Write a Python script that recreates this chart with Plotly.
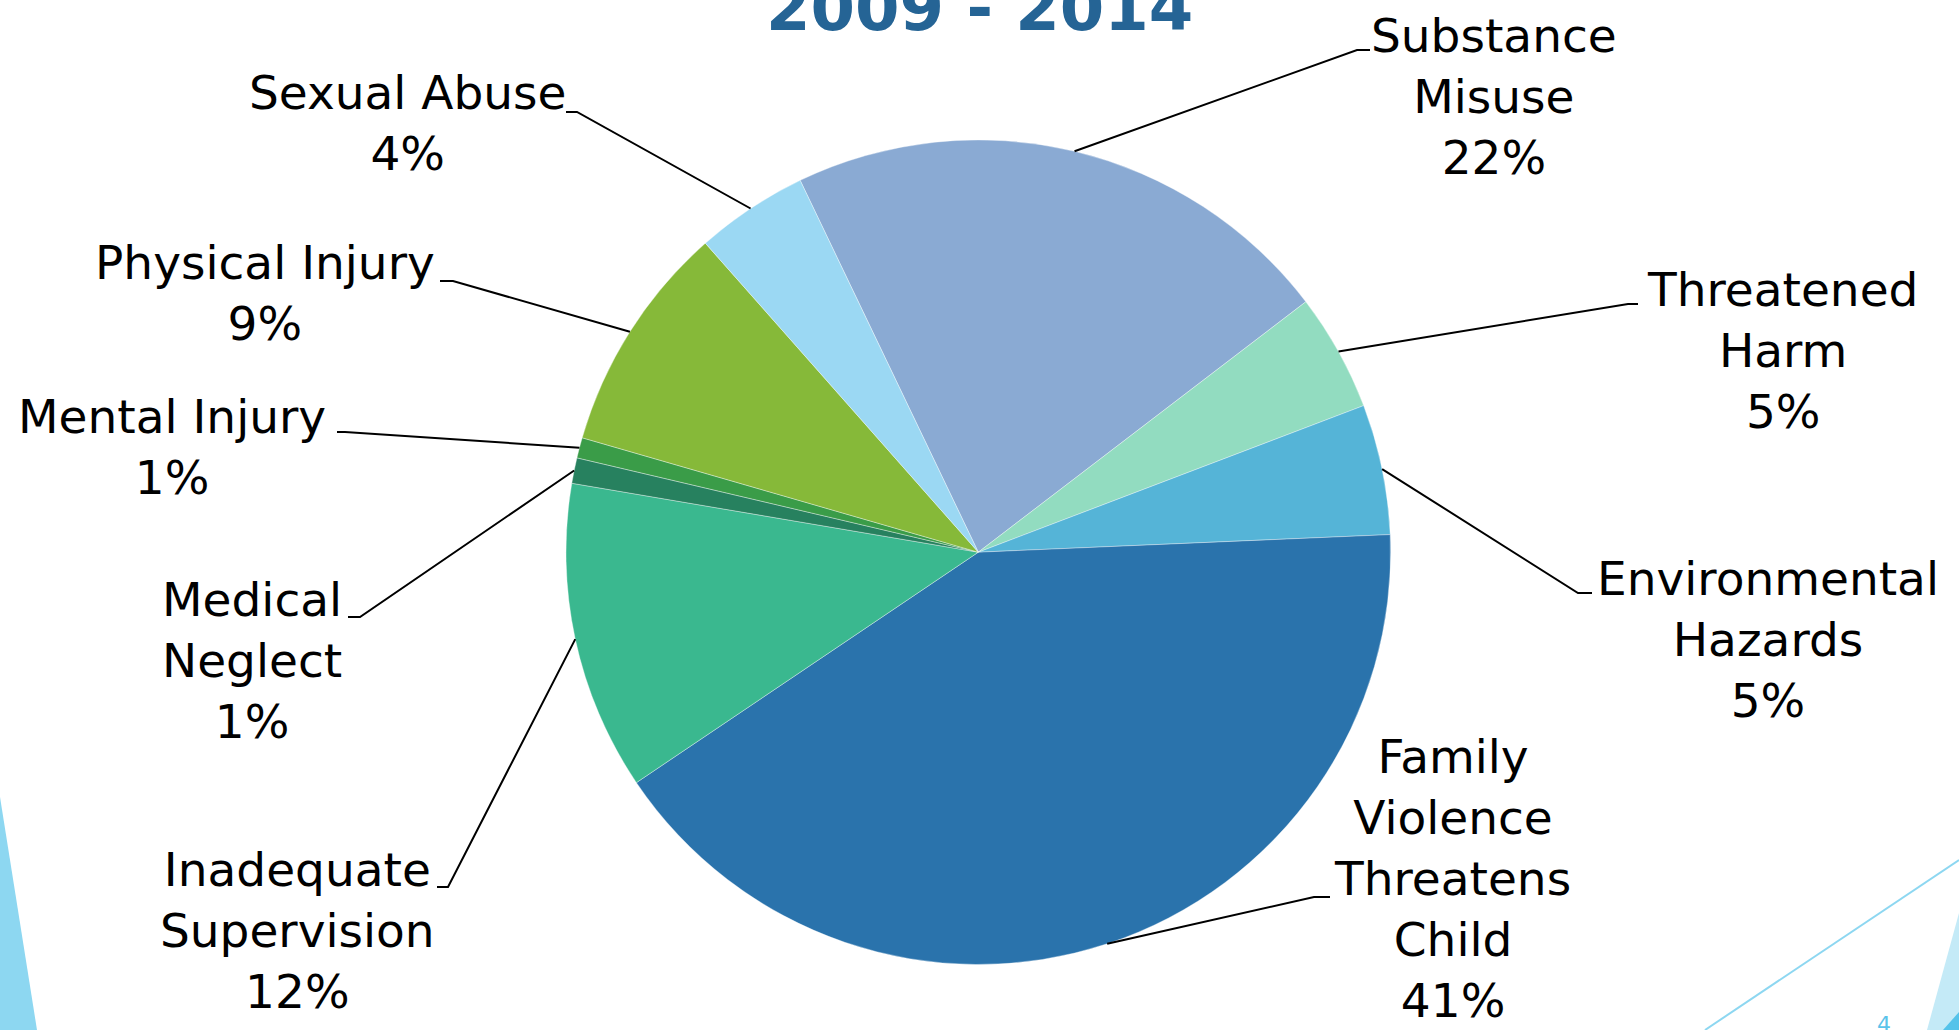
import math
import plotly.graph_objects as go

# ---------------- data ----------------
categories = [
    "Substance<br>Misuse",
    "Threatened<br>Harm",
    "Environmental<br>Hazards",
    "Family<br>Violence<br>Threatens<br>Child",
    "Inadequate<br>Supervision",
    "Medical<br>Neglect",
    "Mental Injury",
    "Physical Injury",
    "Sexual Abuse",
]
shares = [21.7, 4.6, 5.1, 41.2, 12.1, 1.0, 0.8, 9.0, 4.4]
title_text = "2009 - 2014"
page_number = "4"

# ---------------- style / layout ----------------
W, H = 1959, 1030
colors = ["#8AAAD3", "#92DCC0", "#55B4D7", "#2A73AC", "#3AB88F",
          "#27815F", "#3A9C48", "#86B939", "#9BD8F3"]
rotation = -25.6
pie_cx, pie_cy, pie_r = 978.3, 552.2, 412.3  # pixel geometry of the pie domain

# label block centres (px) and leader elbows / ends (px)
label_pos = [(1494, 96), (1782, 350), (1768, 639), (1452, 878), (297, 930),
             (252, 660), (172, 447), (265, 293), (408, 123)]
leader_elbow = [(1357, 50), (1628, 304), (1578, 593), (1314, 897), (448, 887),
                (360, 617), (345, 432), (453, 281), (577, 112)]
leader_end = [(1370, 50), (1638, 304), (1592, 593), (1330, 897), (437, 887),
              (348, 617), (337, 432), (440, 281), (566, 112)]

FONT = "DejaVu Sans"
LABEL_SIZE = 47


def X(px):
    return px / W


def Y(py):
    return 1 - py / H


fig = go.Figure()
fig.add_trace(go.Pie(
    labels=[c.replace("<br>", " ") for c in categories],
    values=shares,
    sort=False,
    direction="clockwise",
    rotation=rotation,
    marker=dict(colors=colors, line=dict(color="rgba(255,255,255,0.6)", width=0.6)),
    textinfo="none",
    hoverinfo="label+percent",
    showlegend=False,
    domain=dict(x=[X(pie_cx - pie_r), X(pie_cx + pie_r)],
                y=[Y(pie_cy + pie_r), Y(pie_cy - pie_r)]),
))

total = sum(shares)
annotations = []
shapes = []
cum = 0.0
for i, (cat, v) in enumerate(zip(categories, shares)):
    mid = math.radians(rotation + (cum + v / 2) / total * 360)
    cum += v
    sx = pie_cx + pie_r * math.sin(mid)
    sy = pie_cy - pie_r * math.cos(mid)
    ex, ey = leader_elbow[i]
    tx, ty = leader_end[i]
    shapes.append(dict(
        type="path", xref="paper", yref="paper",
        path=f"M {X(sx)} {Y(sy)} L {X(ex)} {Y(ey)} L {X(tx)} {Y(ty)}",
        line=dict(color="black", width=2),
    ))
    pct = round(v / total * 100)
    lx, ly = label_pos[i]
    annotations.append(dict(
        x=X(lx), y=Y(ly), xref="paper", yref="paper",
        text=f"{cat}<br>{pct}%", showarrow=False,
        xanchor="center", yanchor="middle", align="center",
        font=dict(family=FONT, size=LABEL_SIZE, color="black"),
    ))

# title (cut by the top of the slide)
annotations.append(dict(
    x=X(979), y=Y(8), xref="paper", yref="paper", text=f"<b>{title_text}</b>",
    showarrow=False, xanchor="center", yanchor="middle",
    font=dict(family=FONT, size=64, color="#256495"),
))
# page number
annotations.append(dict(
    x=X(1884), y=Y(1024), xref="paper", yref="paper", text=page_number,
    showarrow=False, xanchor="center", yanchor="middle",
    font=dict(family=FONT, size=22, color="#5BC3EA"),
))

# slide decorations
def poly(pts):
    return "M " + " L ".join(f"{X(a)} {Y(b)}" for a, b in pts) + " Z"

shapes += [
    dict(type="path", xref="paper", yref="paper", path=poly([(0, 797), (37, 1030), (0, 1030)]),
         fillcolor="#8DD7F1", line=dict(width=0), layer="below"),
    dict(type="line", xref="paper", yref="paper", x0=X(1705), y0=Y(1030), x1=X(1959), y1=Y(860),
         line=dict(color="#8DD7F1", width=2)),
    dict(type="path", xref="paper", yref="paper", path=poly([(1927, 1030), (1959, 913), (1959, 1030)]),
         fillcolor="#C4EAF7", line=dict(width=0)),
    dict(type="path", xref="paper", yref="paper", path=poly([(1943, 1030), (1959, 1012), (1959, 1030)]),
         fillcolor="#55C3EA", line=dict(width=0)),
]

fig.update_layout(
    width=W, height=H,
    margin=dict(l=0, r=0, t=0, b=0),
    paper_bgcolor="white", plot_bgcolor="white",
    annotations=annotations, shapes=shapes,
)
fig.write_html(
    "out.html",
    config={"displayModeBar": False},
    post_script="document.body.style.margin='0';document.body.style.overflow='hidden';",
)
